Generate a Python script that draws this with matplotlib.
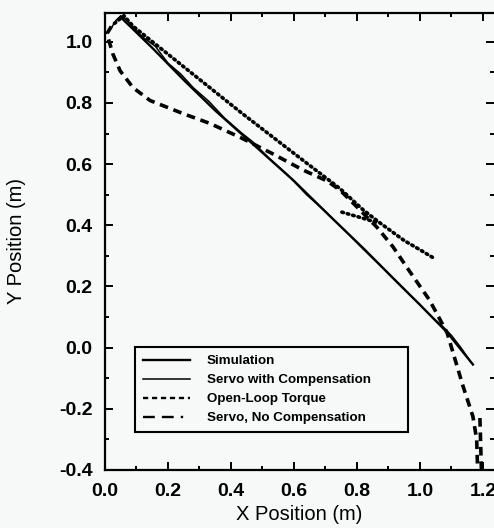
import numpy as np
import matplotlib
matplotlib.use("Agg")
import matplotlib.pyplot as plt
from matplotlib.lines import Line2D
from matplotlib.ticker import MultipleLocator

# trajectories (x, y in metres)
sim_x = [0.05, 0.10, 0.15, 0.25, 0.35, 0.47, 0.60, 0.714, 0.82, 0.914, 1.00, 1.086, 1.168]
sim_y = [1.08, 1.03, 0.98, 0.875, 0.775, 0.665, 0.545, 0.43, 0.325, 0.228, 0.14, 0.05, -0.055]

servo_x = [0.01, 0.02, 0.035, 0.05, 0.07, 0.09, 0.12, 0.16, 0.20, 0.24, 0.28, 0.33, 0.38, 0.43,
           0.47, 0.52, 0.58, 0.64, 0.70, 0.76, 0.82, 0.88, 0.94, 1.00, 1.04, 1.07, 1.10, 1.13, 1.16]
servo_y = [1.03, 1.045, 1.07, 1.085, 1.07, 1.045, 1.015, 0.985, 0.93, 0.895, 0.85, 0.805, 0.75, 0.705,
           0.672, 0.62, 0.565, 0.5, 0.445, 0.385, 0.322, 0.262, 0.2, 0.14, 0.098, 0.072, 0.04, 0.0, -0.045]

open_x = [0.03, 0.06, 0.09, 0.238, 0.43, 0.60, 0.746, 0.82, 0.87, 0.95, 1.00, 1.04,
          np.nan, 0.752, 0.819, 0.86]
open_y = [1.06, 1.085, 1.05, 0.928, 0.77, 0.635, 0.52, 0.45, 0.41, 0.35, 0.32, 0.295,
          np.nan, 0.443, 0.423, 0.41]

nocomp_x = [0.02, 0.006, 0.025, 0.048, 0.089, 0.143, 0.248, 0.333, 0.43, 0.53, 0.63, 0.705,
            0.746, 0.80, 0.863, 0.914, 0.968, 1.03, 1.086, 1.137, 1.168, 1.18, 1.183,
            np.nan, 1.195, 1.19]
nocomp_y = [1.05, 1.026, 0.96, 0.905, 0.85, 0.808, 0.765, 0.733, 0.687, 0.635, 0.58, 0.545,
            0.515, 0.46, 0.394, 0.33, 0.248, 0.156, 0.049, -0.127, -0.225, -0.30, -0.40,
            np.nan, -0.40, -0.22]

labels = ["Simulation", "Servo with Compensation", "Open-Loop Torque", "Servo, No Compensation"]

bg = "#f7f8f8"
plt.rcParams["font.family"] = ["Liberation Sans", "DejaVu Sans"]

fig = plt.figure(figsize=(4.94, 5.28), dpi=100, facecolor=bg)
ax = fig.add_axes([105 / 494, 1 - 470 / 528, 389 / 494, 457 / 528], facecolor=bg)

ax.plot(sim_x, sim_y, color="black", lw=1.7)
ax.plot(servo_x, servo_y, color="black", lw=1.1)
ax.plot(open_x, open_y, color="black", lw=2.6, linestyle=(0, (0.45, 1.1)), dash_capstyle="round")
ax.plot(nocomp_x, nocomp_y, color="black", lw=2.6, linestyle=(0, (2.4, 1.6)))

ax.xaxis.set_minor_locator(MultipleLocator(0.1))
ax.yaxis.set_minor_locator(MultipleLocator(0.1))
ax.tick_params(which="both", direction="in", top=True, right=True, width=1.4, color="black")
ax.tick_params(which="major", length=6, labelsize=14, pad=9)
ax.tick_params(which="minor", length=3)
ax.set_xticks(np.arange(0, 1.21, 0.2))
ax.set_yticks(np.arange(-0.4, 1.01, 0.2))
ax.set_xticklabels([f"{v:.1f}" for v in ax.get_xticks()], fontweight="bold")
ax.set_yticklabels([f"{v:.1f}" for v in ax.get_yticks()], fontweight="bold")
ax.set_xlim(0, 1.235)
ax.set_ylim(-0.4, 1.094)

for side in ["left", "bottom", "top"]:
    ax.spines[side].set_linewidth(1.6)
ax.spines["right"].set_visible(False)

ax.set_xlabel("X Position (m)", fontsize=14.5, labelpad=4)
ax.set_ylabel("Y Position (m)", fontsize=14.5, labelpad=24)

handles = [
    Line2D([], [], color="black", lw=1.7),
    Line2D([], [], color="black", lw=1.1),
    Line2D([], [], color="black", lw=1.7, linestyle=(0, (2.2, 1.6))),
    Line2D([], [], color="black", lw=1.7, linestyle=(0, (5, 3, 5, 3, 1, 3))),
]
leg = ax.legend(handles, labels, loc="upper left", bbox_to_anchor=(0.077, 0.076, 0.702, 0.193),
                mode="expand", borderaxespad=0, frameon=True, fancybox=False, shadow=False,
                prop={"weight": "bold", "size": 9.6}, handlelength=3.5,
                handletextpad=1.3, labelspacing=0.5, borderpad=0.6)
leg.get_frame().set_edgecolor("black")
leg.get_frame().set_linewidth(1.5)
leg.get_frame().set_facecolor(bg)
leg.get_frame().set_alpha(1)

fig.savefig("out.png", dpi=100, facecolor=bg)
